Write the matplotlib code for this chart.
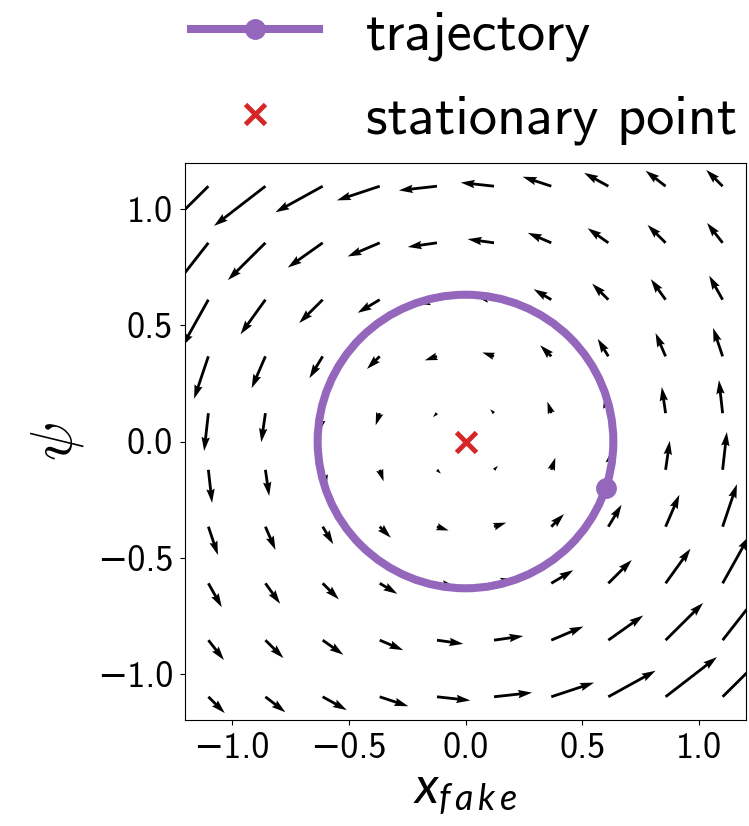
import numpy as np
import matplotlib
matplotlib.use("Agg")
import matplotlib.pyplot as plt
from matplotlib.lines import Line2D
from matplotlib.patches import Circle

plt.rcParams["font.family"] = ["cmss10", "DejaVu Sans"]
plt.rcParams["axes.formatter.use_mathtext"] = False
plt.rcParams["mathtext.fontset"] = "cm"
plt.rcParams["mathtext.it"] = "Lato:italic"
plt.rcParams["mathtext.rm"] = "Lato"
plt.rcParams["axes.unicode_minus"] = True

# ---- data ----
x_grid = [-1.1, -0.856, -0.611, -0.367, -0.122, 0.122, 0.367, 0.611, 0.856, 1.1]
psi_grid = [-1.1, -0.856, -0.611, -0.367, -0.122, 0.122, 0.367, 0.611, 0.856, 1.1]
traj_start = (0.6, -0.2)          # start of the trajectory (marker)
traj_center = (0.0, 0.0)          # trajectory is a closed orbit around the stationary point
stationary_point = (0.0, 0.0)
tick_values = [-1.0, -0.5, 0.0, 0.5, 1.0]
legend_labels = ["trajectory", "stationary point"]

purple = "#9467bd"
red = "#d62728"


def dirac_gan_field(x, psi):
    # gradient field of the Dirac-GAN with D(x)=psi*x and sigmoid loss
    g = 1.0 / (1.0 + np.exp(x * psi))
    return -psi * g, x * g


fig = plt.figure(figsize=(7.49, 8.26), dpi=100)
ax = fig.add_axes([185 / 749, 106 / 826, 561 / 749, 557 / 826])

X, P = np.meshgrid(np.array(x_grid), np.array(psi_grid))
U, V = dirac_gan_field(X, P)
ax.quiver(X, P, U, V, color="black", angles="xy", scale_units="xy", scale=3.6,
          width=0.005, zorder=2)

r = np.hypot(traj_start[0] - traj_center[0], traj_start[1] - traj_center[1])
ax.add_patch(Circle(traj_center, r, fill=False, edgecolor=purple, linewidth=5.8, zorder=3))
ax.plot([traj_start[0]], [traj_start[1]], marker="o", color=purple, markersize=14, zorder=4)
ax.plot([stationary_point[0]], [stationary_point[1]], marker="x", color=red,
        markersize=14, markeredgewidth=3.5, linestyle="none", zorder=5)

ax.set_xlim(-1.2, 1.2)
ax.set_ylim(-1.2, 1.2)
ax.set_xticks(tick_values)
ax.set_yticks(tick_values)
ax.tick_params(labelsize=26, pad=5)
ax.set_xlabel(r"$x_{f\,a\,k\,e}$", fontsize=37, math_fontfamily="custom", labelpad=4)
ax.set_ylabel(r"$\psi$", fontsize=42, math_fontfamily="cm", labelpad=8)

handles = [
    Line2D([], [], color=purple, linewidth=5.8, marker="o", markersize=14),
    Line2D([], [], color=red, linestyle="none", marker="x", markersize=14, markeredgewidth=3.5),
]
fig.legend(handles, legend_labels, loc="upper left", bbox_to_anchor=(0.247, 0.995),
           frameon=False, fontsize=40.5, handlelength=2.28, handletextpad=0.84,
           labelspacing=0.6, borderaxespad=0, borderpad=0.1, numpoints=1)

fig.savefig("out.png", dpi=100)
